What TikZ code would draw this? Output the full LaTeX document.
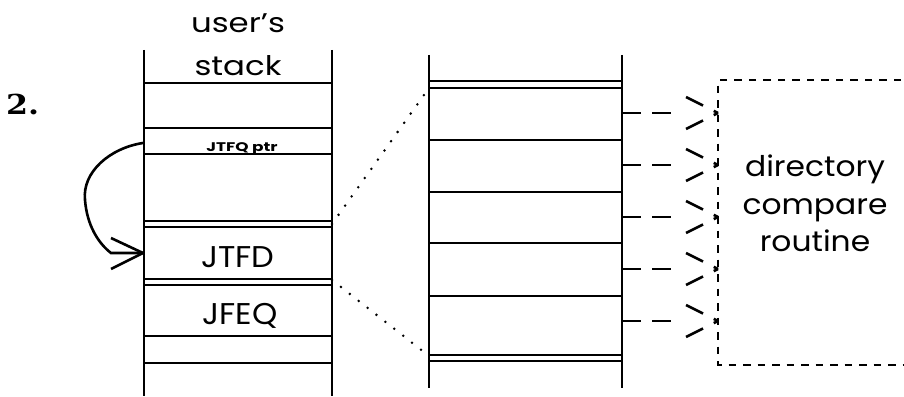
\documentclass[tikz,border=0pt]{standalone}
\usepackage{fontspec}
\setmainfont{Poppins}
\newfontfamily\numfont{DejaVu Serif}
\begin{document}
\begin{tikzpicture}[x=1pt,y=-1pt,
  stk/.style={line width=2.6pt},
  dotl/.style={line width=2.8pt, line cap=round, dash pattern=on 0pt off 11.3pt},
  dashbox/.style={line width=2.6pt, dash pattern=on 7.5pt off 7pt},
  dasharr/.style={line width=2.6pt, dash pattern=on 19pt off 11pt},
  headside/.style={line width=2.6pt, dash pattern=on 19pt off 12pt on 8pt off 20pt},
  lbl/.style={inner sep=0pt, anchor=base}]
\useasboundingbox (0,0) rectangle (904,396);
% left stack
\coordinate (LT) at (144,50); \coordinate (LB) at (144,396);
\coordinate (RT) at (332,50); \coordinate (RB) at (332,396);
\draw[stk] (LT) -- (LB);
\draw[stk] (RT) -- (RB);
\foreach \y in {83,128,154,221,227,279,285,336,363}
  \draw[stk] (144,\y) -- (332,\y);
% right stack
\coordinate (RLT) at (429,55); \coordinate (RLB) at (429,388);
\coordinate (RRT) at (622,55); \coordinate (RRB) at (622,388);
\draw[stk] (RLT) -- (RLB);
\draw[stk] (RRT) -- (RRB);
\foreach \y in {81,88,140,192,243,296,355,361}
  \draw[stk] (429,\y) -- (622,\y);
% texts
\node[lbl, xscale=1.2, font=\fontsize{27}{27}\selectfont] (users) at (238,33) {user’s};
\node[lbl, xscale=1.2, font=\fontsize{27}{27}\selectfont] (stack) at (238,75) {stack};
\node[lbl, anchor=base west, xscale=1.15, font=\numfont\bfseries\fontsize{27.5}{27.5}\selectfont] (two) at (6,114) {2.};
\node[lbl, xscale=1.35, font=\bfseries\fontsize{12.5}{12.5}\selectfont] (jtfq) at (242,151) {JTFQ ptr};
\node[lbl, xscale=1.07, font=\fontsize{30}{30}\selectfont] (jtfd) at (238,267) {JTFD};
\node[lbl, xscale=1.07, font=\fontsize{30}{30}\selectfont] (jfeq) at (240,324) {JFEQ};
\node[lbl, xscale=1.1, font=\fontsize{28.5}{28.5}\selectfont] (dir) at (815,176) {directory};
\node[lbl, xscale=1.1, font=\fontsize{28.5}{28.5}\selectfont] (cmp) at (815,214) {compare};
\node[lbl, xscale=1.1, font=\fontsize{28.5}{28.5}\selectfont] (rtn) at (815,251) {routine};
% curved pointer arrow
\coordinate (pfrom) at (143,143);
\coordinate (pto) at (143,253);
\draw[stk] (pfrom) .. controls (110,148) and (82,172) .. (85,200)
  .. controls (87,225) and (98,243) .. (111,253) -- (pto);
\draw[stk] (pto) -- ++(-32,-15);
\draw[stk] (pto) -- ++(-32,16);
% dotted zoom lines
\coordinate (za) at (332,224); \coordinate (zb) at (429,88);
\coordinate (zc) at (332,280); \coordinate (zd) at (429,356);
\draw[dotl] (za) -- (zb);
\draw[dotl] (zc) -- (zd);
% dashed box
\coordinate (boxtl) at (718,80);
\coordinate (boxbl) at (718,365);
\draw[dashbox] (930,80) -- (boxtl) -- (boxbl) -- (930,365);
% dashed arrows
\foreach \y [count=\i] in {113,165,217,269,321}{
  \coordinate (s\i) at (622,\y);
  \coordinate (m\i) at (672,\y);
  \coordinate (t\i) at (718,\y);
  \draw[dasharr] (s\i) -- (m\i);
  \draw[headside] (686,\y-16) -- (t\i);
  \draw[headside] (686,\y+16) -- (t\i);
}
\end{tikzpicture}
\end{document}
